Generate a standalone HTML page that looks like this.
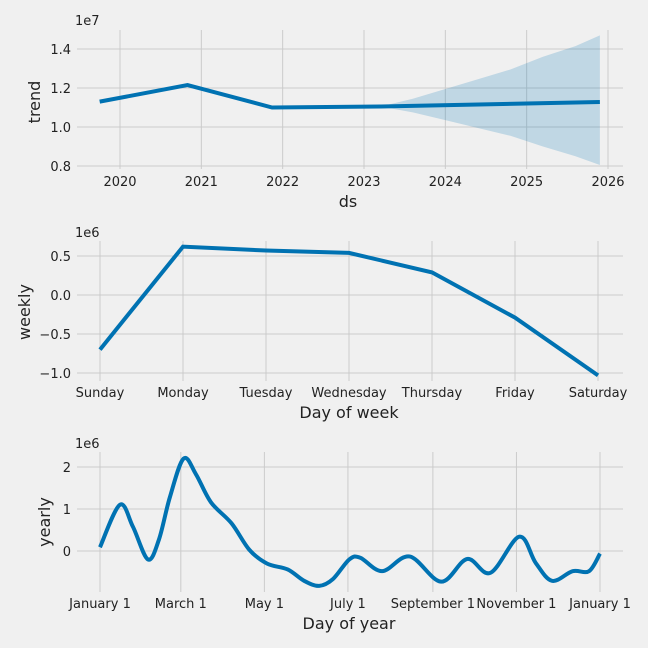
<!DOCTYPE html>
<html><head><meta charset="utf-8"><style>
html,body{margin:0;padding:0;background:#f0f0f0;}
svg{display:block;font-family:"DejaVu Sans","Liberation Sans",sans-serif;}
</style></head><body>
<svg id="c" width="648" height="648" viewBox="0 0 648 648"></svg>
<script>
const trendYears=[2019.75,2020.83,2021.87,2023.2,2025.9];
const trendVals=[11.3,12.15,11.0,11.05,11.28];
const bandYears=[2023.2,2023.6,2024.0,2024.4,2024.8,2025.2,2025.6,2025.9];
const bandUpper=[11.05,11.45,11.95,12.45,12.95,13.6,14.15,14.7];
const bandLower=[11.05,10.75,10.35,9.95,9.55,9.0,8.5,8.05];
const trendTicksX=[2020,2021,2022,2023,2024,2025,2026];
const trendTicksY=[0.8,1.0,1.2,1.4];
const weekDays=["Sunday","Monday","Tuesday","Wednesday","Thursday","Friday","Saturday"];
const weeklyVals=[-0.70,0.62,0.57,0.54,0.29,-0.29,-1.03];
const weeklyTicksY=[-1.0,-0.5,0.0,0.5];
const yearDays=[0,14.5,24,35,43,51,61,70,81,96,109,122,137,149,160,170,182,190,206,226,249,268,285,306,318,330,345,357,365];
const yearlyVals=[0.09,1.1,0.58,-0.2,0.27,1.28,2.2,1.83,1.16,0.66,0.03,-0.30,-0.44,-0.71,-0.83,-0.67,-0.2,-0.16,-0.48,-0.13,-0.73,-0.19,-0.52,0.34,-0.28,-0.71,-0.48,-0.48,-0.06];
const yearTickLabels=["January 1","March 1","May 1","July 1","September 1","November 1","January 1"];
const yearTickDays=[0,59,120,181,243,304,365];
const yearlyTicksY=[0,1,2];

const svg=document.getElementById('c');
const NS='http://www.w3.org/2000/svg';
function mk(tag,at,txt){const e=document.createElementNS(NS,tag);for(const k in at)e.setAttribute(k,at[k]);if(txt!==undefined)e.textContent=txt;svg.appendChild(e);return e;}
const L=77,R=623,LINE='#0072B2';
function lin(d0,d1,r0,r1){return v=>r0+(v-d0)/(d1-d0)*(r1-r0);}
function grid(xs,ys,top,bot,prefix){
  xs.forEach(x=>{const e=mk('line',{x1:x,x2:x,y1:top,y2:bot,stroke:'#cbcbcb','stroke-width':1});
    });
  ys.forEach(y=>{const e=mk('line',{x1:L,x2:R,y1:y,y2:y,stroke:'#cbcbcb','stroke-width':1});
    });
}
function txt(x,y,s,opt,name){const e=mk('text',Object.assign({x:x,y:y,fill:'#222','font-size':13,'text-anchor':'middle'},opt||{}),s);
  return e;}
function smooth(pts){let d='M'+pts[0][0]+','+pts[0][1];
  for(let i=0;i<pts.length-1;i++){const p0=pts[Math.max(0,i-1)],p1=pts[i],p2=pts[i+1],p3=pts[Math.min(pts.length-1,i+2)];
    const c1=[p1[0]+(p2[0]-p0[0])/6,p1[1]+(p2[1]-p0[1])/6],c2=[p2[0]-(p3[0]-p1[0])/6,p2[1]-(p3[1]-p1[1])/6];
    d+=' C'+c1[0]+','+c1[1]+' '+c2[0]+','+c2[1]+' '+p2[0]+','+p2[1];}
  return d;}

// ---- Trend ----
{const x=lin(2020,2026,120,608),y=lin(1.0,1.4,127,49),top=30,bot=169;
 grid(trendTicksX.map(x),trendTicksY.map(y),top,bot,'trend');
 let d='M'+bandYears.map((t,i)=>x(t)+','+y(bandUpper[i]/10)).join(' L');
 for(let i=bandYears.length-1;i>=0;i--)d+=' L'+x(bandYears[i])+','+y(bandLower[i]/10);
 const b=mk('path',{d:d+'Z',fill:LINE,'fill-opacity':0.2});
 
 const p=mk('polyline',{points:trendYears.map((t,i)=>x(t)+','+y(trendVals[i]/10)).join(' '),fill:'none',stroke:LINE,'stroke-width':4});
 
 trendTicksX.forEach(t=>txt(x(t),186,String(t),{},'trend-x-tick-label'));
 trendTicksY.forEach(v=>txt(71,y(v)+5,v.toFixed(1),{'text-anchor':'end'},'trend-y-tick-label'));
 txt(75,25,'1e7',{'text-anchor':'start'},'trend-offset-label');
 txt(348,207,'ds',{'font-size':16},'trend-x-axis-title');
 txt(40,102,'trend',{'font-size':16,transform:'rotate(-90 40 102)'},'trend-y-axis-title');}

// ---- Weekly ----
{const x=lin(0,6,100,598),y=lin(0,0.5,295,256),top=241,bot=381;
 grid(weekDays.map((_,i)=>x(i)),weeklyTicksY.map(y),top,bot,'weekly');
 const p=mk('polyline',{points:weeklyVals.map((v,i)=>x(i)+','+y(v)).join(' '),fill:'none',stroke:LINE,'stroke-width':4});
 
 weekDays.forEach((s,i)=>txt(x(i),397,s,{},'weekly-x-tick-label'));
 weeklyTicksY.forEach(v=>txt(71,y(v)+5,(v<0?'\u2212':'')+Math.abs(v).toFixed(1),{'text-anchor':'end'},'weekly-y-tick-label'));
 txt(75,237,'1e6',{'text-anchor':'start'},'weekly-offset-label');
 txt(349,418,'Day of week',{'font-size':16},'weekly-x-axis-title');
 txt(30,312,'weekly',{'font-size':16,transform:'rotate(-90 30 312)'},'weekly-y-axis-title');}

// ---- Yearly ----
{const x=lin(0,365,100,600),y=lin(0,1,551,509),top=452,bot=592;
 grid(yearTickDays.map(x),yearlyTicksY.map(y),top,bot,'yearly');
 const p=mk('path',{d:smooth(yearDays.map((t,i)=>[x(t),y(yearlyVals[i])])),fill:'none',stroke:LINE,'stroke-width':4});
 
 yearTickLabels.forEach((s,i)=>txt(x(yearTickDays[i]),608,s,{},'yearly-x-tick-label'));
 yearlyTicksY.forEach(v=>txt(71,y(v)+5,String(v),{'text-anchor':'end'},'yearly-y-tick-label'));
 txt(75,448,'1e6',{'text-anchor':'start'},'yearly-offset-label');
 txt(349,629,'Day of year',{'font-size':16},'yearly-x-axis-title');
 txt(50,522,'yearly',{'font-size':16,transform:'rotate(-90 50 522)'},'yearly-y-axis-title');}
</script>
</body></html>
